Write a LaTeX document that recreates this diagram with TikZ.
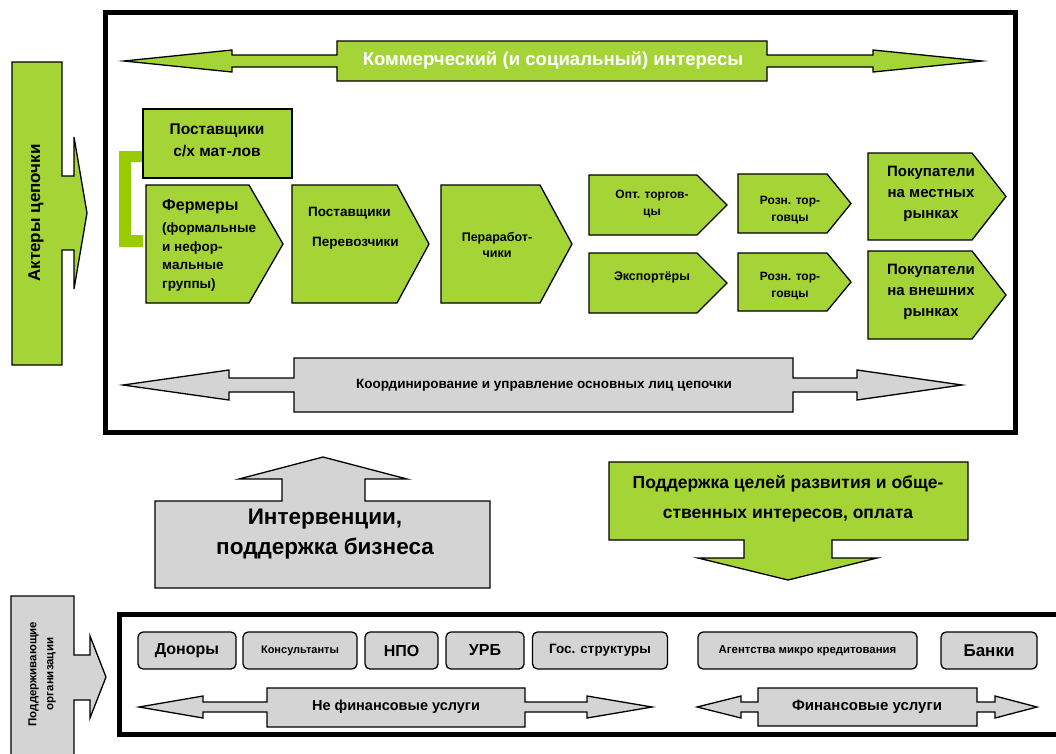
\documentclass[tikz,border=0pt]{standalone}
\usepackage{fontspec}
\setmainfont{Liberation Sans}
\definecolor{gfill}{RGB}{165,212,55}
\definecolor{gbar}{RGB}{153,204,0}
\definecolor{grfill}{RGB}{212,212,212}
\newcommand\fz[2]{\fontsize{#1}{#2}\selectfont\bfseries}
\newcommand\mychev[5]{\draw[chev] (#1,#4) -- (#2,#4) -- (#3,{(#4+#5)/2}) -- (#2,#5) -- (#1,#5) -- cycle;}
\begin{document}
\begin{tikzpicture}[x=1pt,y=-1pt,
  chev/.style={draw=black,line width=1.3pt,fill=gfill,line join=miter},
  gshape/.style={draw=black,line width=1.3pt,fill=gfill,line join=miter},
  grshape/.style={draw=black,line width=1.3pt,fill=grfill,line join=miter},
  frame/.style={draw=black,line width=5pt},
  txt/.style={inner sep=0pt,text=black},
  rbox/.style={draw=black,line width=1.3pt,fill=grfill,rounded corners=5pt,inner sep=0pt}]
\useasboundingbox (0,0) rectangle (1056,753);
% frames
\draw[frame] (105,12) rectangle (1015,432);
\draw[frame] (119.5,614) rectangle (1070,734);
% actors arrow
\draw[gshape] (12,62) -- (62,62) -- (62,176) -- (74,176) -- (74,137) -- (87,213) -- (74,289) -- (74,250) -- (62,250) -- (62,365) -- (12,365) -- cycle;
\node[txt,rotate=90,font={\fz{17}{20}}] (act) at (36,213) {Актеры цепочки};
% top green double arrow
\draw[gshape] (124,61) -- (232,50) -- (232,55) -- (337,55) -- (337,41) -- (767,41) -- (767,55) -- (873,55) -- (873,50) -- (982,61) -- (873,72) -- (873,67) -- (767,67) -- (767,81) -- (337,81) -- (337,67) -- (232,67) -- (232,72) -- cycle;
\node[txt,text=white,font={\fz{18.6}{21}}] (comm) at (553,61) {Коммерческий (и социальный) интересы};
% bracket
\fill[gbar] (143,151) -- (119,151) -- (119,247) -- (143,247) -- (143,235) -- (131,235) -- (131,162) -- (143,162) -- cycle;
% suppliers box
\draw[gshape] (143,109) rectangle (292,178);
\node[txt,align=center,font={\fz{15.5}{22}}] (psx) at (217,140) {Поставщики\\с/х мат-лов};
% chevrons
\mychev{146}{249}{283}{185}{303}
\mychev{292}{397}{429}{185}{303}
\mychev{441}{540}{572}{185}{303}
\mychev{589}{697}{727}{175}{235}
\mychev{589}{697}{727}{253}{313}
\mychev{738}{827}{851}{174}{233}
\mychev{738}{827}{851}{253}{311}
\mychev{868}{972}{1006}{153}{240}
\mychev{868}{972}{1006}{251}{339}
\node[txt,anchor=west,font={\fz{16}{19}}] (ferm) at (162,207) {Фермеры};
\node[txt,anchor=west,align=left,font={\fz{13.5}{18.5}}] (fermsub) at (162,257) {(формальные\\и нефор-\\мальные\\группы)};
\node[txt,anchor=west,font={\fz{13.5}{16}}] (pp1) at (308,213) {Поставщики};
\node[txt,anchor=west,font={\fz{13.5}{16}}] (pp2) at (312,243) {Перевозчики};
\node[txt,align=center,font={\fz{12.5}{16}}] (per) at (497,245) {Пераработ-\\чики};
\node[txt,align=center,font={\fz{12}{17}}] (opt) at (652,204) {Опт. торгов-\\цы};
\node[txt,font={\fz{12.5}{15}}] (exp) at (652,277) {Экспортёры};
\node[txt,align=center,font={\fz{12}{17}}] (rozn1) at (790,210) {Розн. тор-\\говцы};
\node[txt,align=center,font={\fz{12}{17}}] (rozn2) at (790,286) {Розн. тор-\\говцы};
\node[txt,align=center,font={\fz{15}{21}}] (pok1) at (931,194) {Покупатели\\на местных\\рынках};
\node[txt,align=center,font={\fz{15}{21}}] (pok2) at (931,292) {Покупатели\\на внешних\\рынках};
% gray coordination arrow
\draw[grshape] (123,385) -- (229,370) -- (229,378) -- (294,378) -- (294,358) -- (793,358) -- (793,378) -- (857,378) -- (857,370) -- (962,385) -- (857,400) -- (857,392) -- (793,392) -- (793,412) -- (294,412) -- (294,392) -- (229,392) -- (229,400) -- cycle;
\node[txt,font={\fz{13.5}{16}}] (coord) at (544,385) {Координирование и управление основных лиц цепочки};
% intervention arrow
\draw[grshape] (155,501) -- (282,501) -- (282,479) -- (239,479) -- (323,457) -- (407,479) -- (365,479) -- (365,501) -- (490,501) -- (490,588) -- (155,588) -- cycle;
\node[txt,align=center,font={\fz{22.5}{30}}] (interv) at (325,534) {Интервенции,\\поддержка бизнеса};
% green down arrow
\draw[gshape] (609,462) -- (968,462) -- (968,540) -- (832,540) -- (832,558) -- (877,558) -- (788,580) -- (698,558) -- (744,558) -- (744,540) -- (609,540) -- cycle;
\node[txt,align=center,font={\fz{17.5}{30}}] (podd) at (788,499) {Поддержка целей развития и обще-\\ственных интересов, оплата};
% supporting organisations arrow
\draw[grshape] (11,596) -- (74,596) -- (74,655) -- (90,655) -- (90,636) -- (106,677) -- (90,718) -- (90,700) -- (74,700) -- (74,760) -- (11,760) -- cycle;
\node[txt,rotate=90,align=center,font={\fz{11.5}{17}}] (sup) at (42,674) {Поддерживающие\\организации};
% bottom boxes
\node[rbox,minimum width=98pt,minimum height=37pt,font={\fz{16}{18}}] (don) at (187,650.5) {Доноры};
\node[rbox,minimum width=114pt,minimum height=37pt,font={\fz{11}{13}}] (kons) at (300,650.5) {Консультанты};
\node[rbox,minimum width=73pt,minimum height=37pt,font={\fz{16}{18}}] (npo) at (401.5,650.5) {НПО};
\node[rbox,minimum width=78pt,minimum height=37pt,font={\fz{16}{18}}] (urb) at (485,650.5) {УРБ};
\node[rbox,minimum width=135pt,minimum height=37pt,font={\fz{13.5}{16}}] (gos) at (600,650.5) {Гос. структуры};
\node[rbox,minimum width=219pt,minimum height=37pt,font={\fz{11.4}{13}}] (ag) at (807.5,650.5) {Агентства микро кредитования};
\node[rbox,minimum width=96pt,minimum height=37pt,font={\fz{17}{19}}] (bank) at (989,650.5) {Банки};
% bottom arrows
\draw[grshape] (139,707) -- (203,696) -- (203,702) -- (267,702) -- (267,688) -- (525,688) -- (525,702) -- (587,702) -- (587,696) -- (652,707) -- (587,718) -- (587,712) -- (525,712) -- (525,727) -- (267,727) -- (267,712) -- (203,712) -- (203,718) -- cycle;
\node[txt,font={\fz{14.5}{17}}] (nefin) at (396,707) {Не финансовые услуги};
\draw[grshape] (697,707) -- (741,696) -- (741,702) -- (758,702) -- (758,688) -- (977,688) -- (977,702) -- (995,702) -- (995,696) -- (1037,707) -- (995,718) -- (995,712) -- (977,712) -- (977,726) -- (758,726) -- (758,712) -- (741,712) -- (741,718) -- cycle;
\node[txt,font={\fz{15}{17}}] (fin) at (867,707) {Финансовые услуги};
\end{tikzpicture}
\end{document}
